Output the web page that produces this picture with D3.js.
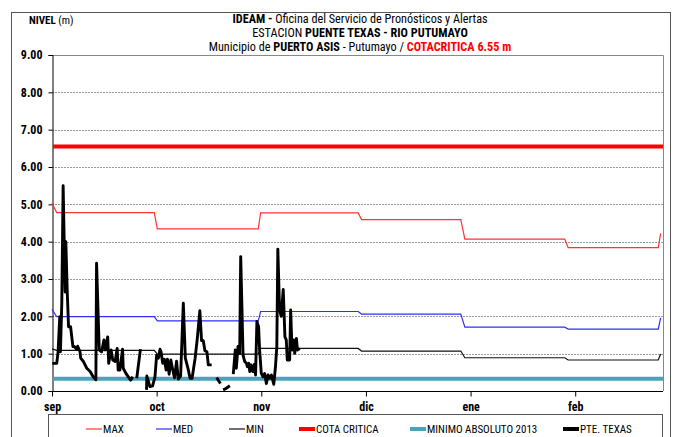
<!DOCTYPE html>
<html><head><meta charset="utf-8">
<script src="https://cdn.jsdelivr.net/npm/d3@7"></script>
<style>body{margin:0;background:#fff} svg{display:block}</style>
</head><body><svg id="c" width="674" height="437"></svg>
<script>
// ---- data ----
const months = ["sep","oct","nov","dic","ene","feb"];
const monthTickDays = [0,31,62,93,124,155];
const yTicks = [0,1,2,3,4,5,6,7,8,9];
const cotaCritica = 6.55;
const minimoAbsoluto2013 = 0.33;

const maxDays = [0,1.4,30.3,31.2,61.1,61.8,90.7,91.7,121.1,122.3,151.9,152.9,179.6,180.3];
const maxVals = [5.03,4.78,4.78,4.34,4.34,4.77,4.77,4.59,4.59,4.07,4.07,3.84,3.84,4.22];
const medDays = maxDays;
const medVals = [2.19,1.99,1.99,1.88,1.88,2.13,2.13,2.06,2.06,1.71,1.71,1.66,1.66,1.96];
const minDays = maxDays;
const minVals = [1.13,1.09,1.09,0.99,0.99,1.14,1.14,1.07,1.07,0.89,0.89,0.83,0.83,0.99];

const obsDay = [0.1,1.4,1.8,2.3,2.5,2.9,3.3,3.9,4.1,4.5,4.9,5.5,6.2,6.6,7.3,7.6,8.3,8.5,9.3,9.8,10.3,11.3,12.2,13.0,13.2,14.0,14.7,15.4,15.8,16.5,16.8,17.5,18.0,18.7,19.3,19.6,20.1,20.9,21.1,21.9,22.6,23.3,23.9,24.5,
 25.1,26.2,27.0,
 28.0,28.1,29.0,29.8,30.5,31.0,31.5,32.0,32.3,32.8,33.3,33.8,34.2,34.7,35.2,35.8,36.3,36.9,37.4,38.1,38.9,39.5,40.3,40.9,41.5,42.4,43.0,43.8,44.3,44.8,45.3,45.9,46.3,47.3,48.0,
 48.8,49.3,49.9,50.3,
 50.7,51.4,52.7,53.2,
 53.7,54.3,54.6,55.1,55.6,55.9,56.6,57.1,57.6,57.9,58.3,58.6,59.0,59.5,60.0,60.3,60.7,61.2,61.5,62.0,62.5,63.0,63.5,64.0,64.5,65.0,65.7,66.2,66.6,66.9,67.4,67.9,68.5,69.0,69.4,69.7,70.4,70.7,71.1,71.6,71.9,72.4,72.7,73.4];
const obsLevel = [0.74,0.74,1.05,1.99,1.05,2.36,5.50,2.65,4.00,2.70,1.72,1.72,1.19,1.19,1.12,1.20,1.05,0.88,0.79,0.70,0.61,0.52,0.38,0.30,3.42,1.10,1.05,1.37,1.10,1.45,0.74,1.10,0.83,0.79,1.14,0.56,0.56,1.12,0.61,0.47,0.38,0.29,0.38,null,
 0.34,1.12,null,
 0.03,0.40,0.12,0.14,0.38,0.96,0.88,1.12,1.05,0.74,0.85,0.56,0.85,0.45,0.83,0.55,0.35,0.80,0.32,0.40,2.35,0.88,0.60,0.34,0.34,0.88,1.37,2.15,1.35,1.35,1.08,1.05,0.70,0.70,null,
 0.36,0.28,0.20,null,
 0.03,0.06,0.14,null,
 0.45,1.10,0.61,1.19,1.01,3.60,0.96,0.79,0.74,0.65,0.74,0.52,0.70,0.52,0.72,0.43,1.86,1.72,1.10,0.47,0.38,0.47,0.20,0.43,0.34,0.43,0.18,0.65,1.19,3.80,2.20,2.00,2.72,1.45,1.37,0.83,0.83,2.17,1.10,1.37,1.01,1.41,1.10,1.14];

const legendLabels = ["MAX","MED","MIN","COTA CRITICA","MINIMO ABSOLUTO 2013","PTE. TEXAS"];
const legendColors = ["#ff3333","#2f2fff","#111","#ff0000","#4aa3b8","#000"];

// ---- layout ----
const NARROW = "'Liberation Sans Narrow','Arial Narrow','Roboto Condensed','Liberation Sans',Arial,sans-serif";
const svg = d3.select("#c");
const L = 52, R = 663, T = 55, B = 391;
const x = d3.scaleLinear().domain([0,181]).range([L,R]);
const y = d3.scaleLinear().domain([0,9]).range([B,T]);

// outer frame
svg.append("rect").attr("x",11.5).attr("y",12.5).attr("width",659).attr("height",440)
  .attr("fill","none").attr("stroke","#555").attr("stroke-width",1);

// gridlines
svg.append("g").selectAll("line").data(yTicks.filter(v=>v>0 && v<9)).join("line")
  .attr("x1",L).attr("x2",R).attr("y1",d=>Math.round(y(d))+0.5).attr("y2",d=>Math.round(y(d))+0.5)
  .attr("stroke","#9a9a9a").attr("stroke-width",1).attr("stroke-dasharray","2,1");
// plot box top/right
svg.append("path").attr("d",`M${L},${T+0.5}H${R+0.5}V${B}`).attr("fill","none").attr("stroke","#888").attr("stroke-width",1);

// axes
const yAxis = d3.axisLeft(y).tickValues(yTicks).tickFormat(d3.format(".2f")).tickSize(4).tickPadding(6);
const gy = svg.append("g").attr("transform",`translate(${L+0.5},0)`).call(yAxis);
gy.selectAll("text").attr("font-family",NARROW).attr("font-weight","bold").attr("font-size",12).attr("fill","#000");
gy.selectAll("line,path").attr("stroke","#000");

const xAxis = d3.axisBottom(x).tickValues(monthTickDays).tickFormat((d,i)=>months[i]).tickSize(5).tickPadding(6);
const gx = svg.append("g").attr("transform",`translate(0,${B+0.5})`).call(xAxis);
gx.select(".domain").attr("d",`M${L},0H${R}`);
gx.selectAll("text").attr("font-family",NARROW).attr("font-weight","bold").attr("font-size",12).attr("fill","#000");
gx.selectAll("line,path").attr("stroke","#000");

// reference lines
svg.append("line").attr("x1",L+1).attr("x2",R).attr("y1",y(cotaCritica)).attr("y2",y(cotaCritica))
  .attr("stroke","#ff0000").attr("stroke-width",4);
svg.append("line").attr("x1",L+1).attr("x2",R).attr("y1",y(minimoAbsoluto2013)).attr("y2",y(minimoAbsoluto2013))
  .attr("stroke","#4aa3b8").attr("stroke-width",4);

// climatology lines
function series(days, vals){ return days.map((d,i)=>[d,vals[i]]); }
const line = d3.line().x(d=>x(d[0])).y(d=>y(d[1]));
[[maxDays,maxVals,"#ff3333"],[medDays,medVals,"#2f2fff"],[minDays,minVals,"#111"]].forEach(([ds,vs,c])=>{
  svg.append("path").attr("d",line(series(ds,vs))).attr("fill","none").attr("stroke",c).attr("stroke-width",1.2);
});

// observations
const obsLine = d3.line().defined(d=>d[1]!==null).x(d=>x(d[0])).y(d=>y(d[1]));
svg.append("path").attr("d",obsLine(series(obsDay,obsLevel))).attr("fill","none")
  .attr("stroke","#000").attr("stroke-width",2.9).attr("stroke-linejoin","round");

// titles
const t = svg.append("g").attr("font-family",NARROW).attr("font-size",12.2).attr("text-anchor","middle").attr("fill","#000");
const t1 = t.append("text").attr("x",360).attr("y",23);
t1.append("tspan").attr("font-weight","bold").text("IDEAM - ");
t1.append("tspan").text("Oficina del Servicio de Pronósticos y Alertas");
const t2 = t.append("text").attr("x",360).attr("y",37);
t2.append("tspan").text("ESTACION ");
t2.append("tspan").attr("font-weight","bold").text("PUENTE TEXAS - RIO PUTUMAYO");
const t3 = t.append("text").attr("x",360).attr("y",51);
t3.append("tspan").text("Municipio de ");
t3.append("tspan").attr("font-weight","bold").text("PUERTO ASIS");
t3.append("tspan").text(" - Putumayo / ");
t3.append("tspan").attr("font-weight","bold").attr("fill","#ff0000").text("COTACRITICA 6.55 m");

const nv = svg.append("text").attr("x",29).attr("y",24).attr("font-family",NARROW).attr("font-size",11);
nv.append("tspan").attr("font-weight","bold").text("NIVEL");
nv.append("tspan").text(" (m)");

// legend
svg.append("rect").attr("x",48.5).attr("y",414.5).attr("width",614).attr("height",40)
  .attr("fill","none").attr("stroke","#555");
const legX = [86,156,229,299,410,563];
const lg = svg.append("g").selectAll("g").data(legendLabels).join("g")
  .attr("transform",(d,i)=>`translate(${legX[i]},429)`);
lg.append("line").attr("x1",0).attr("x2",16).attr("y1",0).attr("y2",0)
  .attr("stroke",(d,i)=>legendColors[i]).attr("stroke-width",(d,i)=>i>=3?4:1.2);
lg.append("text").attr("x",17).attr("y",4).attr("font-family",NARROW).attr("font-size",11).text(d=>d);
</script></body></html>
